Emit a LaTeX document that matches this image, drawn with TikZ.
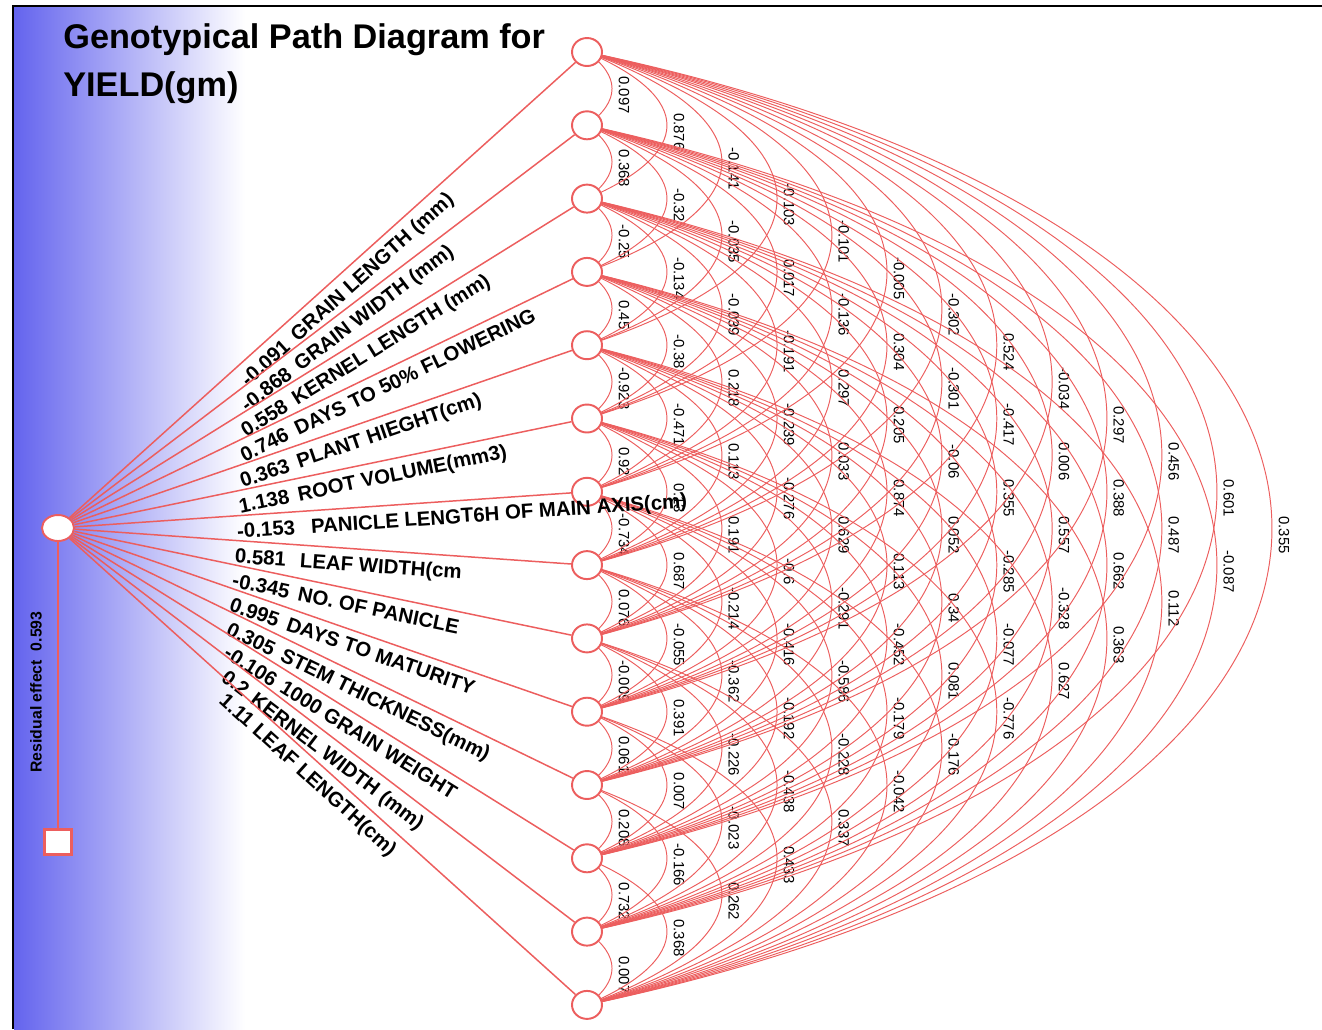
\documentclass[tikz,border=0pt]{standalone}
\usepackage{fontspec}
\setmainfont{Liberation Sans}
\usetikzlibrary{shapes.geometric,backgrounds}
\definecolor{rouge}{RGB}{236,94,94}
\definecolor{fond}{RGB}{100,100,238}

\begin{document}
\begin{tikzpicture}[x=0.02cm, y=-0.02cm]
\tikzset{noeud/.style={draw=rouge, fill=white, ellipse, line width=1.1pt, inner sep=0pt, minimum width=0.6cm, minimum height=0.56cm},
  centre/.style={noeud, minimum width=0.64cm, minimum height=0.52cm},
  carre/.style={draw=rouge, fill=white, rectangle, line width=1.4pt, inner sep=0pt, minimum width=0.54cm, minimum height=0.5cm},
  rayon/.style={draw=rouge, line width=0.85pt},
  courbe/.style={draw=rouge, line width=0.55pt},
  ecart/.style 2 args={out=-#1, in=#1, distance=#2},
  ec1/.style={ecart={35.6}{0.821cm}},
  ec2/.style={ecart={23.1}{2.319cm}},
  ec3/.style={ecart={19.9}{3.827cm}},
  ec4/.style={ecart={18.1}{5.333cm}},
  ec5/.style={ecart={16.9}{6.826cm}},
  ec6/.style={ecart={15.9}{8.320cm}},
  ec7/.style={ecart={15.1}{9.804cm}},
  ec8/.style={ecart={14.5}{11.290cm}},
  ec9/.style={ecart={13.8}{12.775cm}},
  ec10/.style={ecart={13.3}{14.250cm}},
  ec11/.style={ecart={12.8}{15.724cm}},
  ec12/.style={ecart={12.3}{17.197cm}},
  ec13/.style={ecart={11.9}{18.671cm}},
  coef/.style={yshift=-0.13cm, rotate=-90, anchor=south, inner sep=3.5pt, font=\fontsize{8.5}{10}\selectfont},
  etiq/.style={pos=0.32, sloped, anchor=north west, inner xsep=1pt, inner ysep=4pt, font=\bfseries\fontsize{11.6}{14}\selectfont}}
\useasboundingbox (0,0) rectangle (1322,1029);
\node[anchor=north west, align=left, inner sep=0pt, font=\bfseries\fontsize{19.5}{27.3}\selectfont] (titre) at (63,23) {Genotypical Path Diagram for\\YIELD(gm)};

\node[centre] (C) at (58,528) {};
\node[noeud] (V1) at (587,52) {};
\node[noeud] (V2) at (587,125.3) {};
\node[noeud] (V3) at (587,198.6) {};
\node[noeud] (V4) at (587,271.9) {};
\node[noeud] (V5) at (587,345.2) {};
\node[noeud] (V6) at (587,418.5) {};
\node[noeud] (V7) at (587,491.8) {};
\node[noeud] (V8) at (587,565.1) {};
\node[noeud] (V9) at (587,638.4) {};
\node[noeud] (V10) at (587,711.7) {};
\node[noeud] (V11) at (587,785) {};
\node[noeud] (V12) at (587,858.3) {};
\node[noeud] (V13) at (587,931.6) {};
\node[noeud] (V14) at (587,1004.9) {};
\node[carre] (R) at (58,842) {};
\node[rotate=90, inner sep=0pt, font=\bfseries\fontsize{9}{11}\selectfont] (res) at (36,692) {Residual effect\ \ 0.593};

% chemins directs
\draw[rayon] (C) -- node[etiq] {-0.091\hspace{0.45em}GRAIN LENGTH (mm)} (V1);
\draw[rayon] (C) -- node[etiq] {-0.868\hspace{0.45em}GRAIN WIDTH (mm)} (V2);
\draw[rayon] (C) -- node[etiq] {0.558\hspace{0.45em}KERNEL LENGTH (mm)} (V3);
\draw[rayon] (C) -- node[etiq] {0.746\hspace{0.45em}DAYS TO 50\% FLOWERING} (V4);
\draw[rayon] (C) -- node[etiq] {0.363\hspace{0.45em}PLANT HIEGHT(cm)} (V5);
\draw[rayon] (C) -- node[etiq] {1.138\hspace{0.45em}ROOT VOLUME(mm3)} (V6);
\draw[rayon] (C) -- node[etiq] {-0.153\hspace{0.8em}PANICLE LENGT6H OF MAIN AXIS(cm)} (V7);
\draw[rayon] (C) -- node[etiq] {0.581\hspace{0.7em}LEAF WIDTH(cm} (V8);
\draw[rayon] (C) -- node[etiq] {-0.345\hspace{0.45em}NO. OF PANICLE} (V9);
\draw[rayon] (C) -- node[etiq] {0.995\hspace{0.45em}DAYS TO MATURITY} (V10);
\draw[rayon] (C) -- node[etiq] {0.305\hspace{0.45em}STEM THICKNESS(mm)} (V11);
\draw[rayon] (C) -- node[etiq] {-0.106\hspace{0.4em}1000 GRAIN WEIGHT} (V12);
\draw[rayon] (C) -- node[etiq] {0.2\hspace{0.4em}KERNEL WIDTH (mm)} (V13);
\draw[rayon] (C) -- node[etiq] {1.11\hspace{0.3em}LEAF LENGTH(cm)} (V14);
\draw[rayon] (C) -- (R);

\begin{scope}[on background layer]
\shade[left color=fond, right color=white] (14,6) rectangle (245,1029);
\draw[line width=1.4pt] (13,1029) -- (13,6) -- (1322,6);
% correlations, ecart 1
\draw[courbe] (V1.center) to[ec1] node[coef] {0.097} (V2.center);
\draw[courbe] (V2.center) to[ec1] node[coef] {0.368} (V3.center);
\draw[courbe] (V3.center) to[ec1] node[coef] {-0.25} (V4.center);
\draw[courbe] (V4.center) to[ec1] node[coef] {0.45} (V5.center);
\draw[courbe] (V5.center) to[ec1] node[coef] {-0.923} (V6.center);
\draw[courbe] (V6.center) to[ec1] node[coef] {0.92} (V7.center);
\draw[courbe] (V7.center) to[ec1] node[coef] {-0.734} (V8.center);
\draw[courbe] (V8.center) to[ec1] node[coef] {0.076} (V9.center);
\draw[courbe] (V9.center) to[ec1] node[coef] {-0.009} (V10.center);
\draw[courbe] (V10.center) to[ec1] node[coef] {0.061} (V11.center);
\draw[courbe] (V11.center) to[ec1] node[coef] {0.208} (V12.center);
\draw[courbe] (V12.center) to[ec1] node[coef] {0.732} (V13.center);
\draw[courbe] (V13.center) to[ec1] node[coef] {0.007} (V14.center);
% ecart 2
\draw[courbe] (V1.center) to[ec2] node[coef] {0.876} (V3.center);
\draw[courbe] (V2.center) to[ec2] node[coef] {-0.32} (V4.center);
\draw[courbe] (V3.center) to[ec2] node[coef] {-0.134} (V5.center);
\draw[courbe] (V4.center) to[ec2] node[coef] {-0.38} (V6.center);
\draw[courbe] (V5.center) to[ec2] node[coef] {-0.471} (V7.center);
\draw[courbe] (V6.center) to[ec2] node[coef] {0.13} (V8.center);
\draw[courbe] (V7.center) to[ec2] node[coef] {0.687} (V9.center);
\draw[courbe] (V8.center) to[ec2] node[coef] {-0.055} (V10.center);
\draw[courbe] (V9.center) to[ec2] node[coef] {0.391} (V11.center);
\draw[courbe] (V10.center) to[ec2] node[coef] {0.007} (V12.center);
\draw[courbe] (V11.center) to[ec2] node[coef] {-0.166} (V13.center);
\draw[courbe] (V12.center) to[ec2] node[coef] {0.368} (V14.center);
% ecart 3
\draw[courbe] (V1.center) to[ec3] node[coef] {-0.141} (V4.center);
\draw[courbe] (V2.center) to[ec3] node[coef] {-0.035} (V5.center);
\draw[courbe] (V3.center) to[ec3] node[coef] {-0.039} (V6.center);
\draw[courbe] (V4.center) to[ec3] node[coef] {0.218} (V7.center);
\draw[courbe] (V5.center) to[ec3] node[coef] {0.113} (V8.center);
\draw[courbe] (V6.center) to[ec3] node[coef] {0.191} (V9.center);
\draw[courbe] (V7.center) to[ec3] node[coef] {-0.214} (V10.center);
\draw[courbe] (V8.center) to[ec3] node[coef] {-0.362} (V11.center);
\draw[courbe] (V9.center) to[ec3] node[coef] {-0.226} (V12.center);
\draw[courbe] (V10.center) to[ec3] node[coef] {-0.023} (V13.center);
\draw[courbe] (V11.center) to[ec3] node[coef] {0.262} (V14.center);
% ecart 4
\draw[courbe] (V1.center) to[ec4] node[coef] {-0.103} (V5.center);
\draw[courbe] (V2.center) to[ec4] node[coef] {0.017} (V6.center);
\draw[courbe] (V3.center) to[ec4] node[coef] {-0.191} (V7.center);
\draw[courbe] (V4.center) to[ec4] node[coef] {-0.239} (V8.center);
\draw[courbe] (V5.center) to[ec4] node[coef] {-0.276} (V9.center);
\draw[courbe] (V6.center) to[ec4] node[coef] {-0.6} (V10.center);
\draw[courbe] (V7.center) to[ec4] node[coef] {-0.416} (V11.center);
\draw[courbe] (V8.center) to[ec4] node[coef] {-0.192} (V12.center);
\draw[courbe] (V9.center) to[ec4] node[coef] {-0.438} (V13.center);
\draw[courbe] (V10.center) to[ec4] node[coef] {0.433} (V14.center);
% ecart 5
\draw[courbe] (V1.center) to[ec5] node[coef] {-0.101} (V6.center);
\draw[courbe] (V2.center) to[ec5] node[coef] {-0.136} (V7.center);
\draw[courbe] (V3.center) to[ec5] node[coef] {0.297} (V8.center);
\draw[courbe] (V4.center) to[ec5] node[coef] {0.033} (V9.center);
\draw[courbe] (V5.center) to[ec5] node[coef] {0.629} (V10.center);
\draw[courbe] (V6.center) to[ec5] node[coef] {-0.291} (V11.center);
\draw[courbe] (V7.center) to[ec5] node[coef] {-0.586} (V12.center);
\draw[courbe] (V8.center) to[ec5] node[coef] {-0.228} (V13.center);
\draw[courbe] (V9.center) to[ec5] node[coef] {0.337} (V14.center);
% ecart 6
\draw[courbe] (V1.center) to[ec6] node[coef] {-0.005} (V7.center);
\draw[courbe] (V2.center) to[ec6] node[coef] {0.304} (V8.center);
\draw[courbe] (V3.center) to[ec6] node[coef] {0.205} (V9.center);
\draw[courbe] (V4.center) to[ec6] node[coef] {0.874} (V10.center);
\draw[courbe] (V5.center) to[ec6] node[coef] {0.113} (V11.center);
\draw[courbe] (V6.center) to[ec6] node[coef] {-0.452} (V12.center);
\draw[courbe] (V7.center) to[ec6] node[coef] {-0.179} (V13.center);
\draw[courbe] (V8.center) to[ec6] node[coef] {-0.042} (V14.center);
% ecart 7
\draw[courbe] (V1.center) to[ec7] node[coef] {-0.302} (V8.center);
\draw[courbe] (V2.center) to[ec7] node[coef] {-0.301} (V9.center);
\draw[courbe] (V3.center) to[ec7] node[coef] {-0.06} (V10.center);
\draw[courbe] (V4.center) to[ec7] node[coef] {0.052} (V11.center);
\draw[courbe] (V5.center) to[ec7] node[coef] {0.34} (V12.center);
\draw[courbe] (V6.center) to[ec7] node[coef] {0.081} (V13.center);
\draw[courbe] (V7.center) to[ec7] node[coef] {-0.176} (V14.center);
% ecart 8
\draw[courbe] (V1.center) to[ec8] node[coef] {0.524} (V9.center);
\draw[courbe] (V2.center) to[ec8] node[coef] {-0.417} (V10.center);
\draw[courbe] (V3.center) to[ec8] node[coef] {0.355} (V11.center);
\draw[courbe] (V4.center) to[ec8] node[coef] {-0.285} (V12.center);
\draw[courbe] (V5.center) to[ec8] node[coef] {-0.077} (V13.center);
\draw[courbe] (V6.center) to[ec8] node[coef] {-0.776} (V14.center);
% ecart 9
\draw[courbe] (V1.center) to[ec9] node[coef] {-0.034} (V10.center);
\draw[courbe] (V2.center) to[ec9] node[coef] {0.006} (V11.center);
\draw[courbe] (V3.center) to[ec9] node[coef] {0.557} (V12.center);
\draw[courbe] (V4.center) to[ec9] node[coef] {-0.328} (V13.center);
\draw[courbe] (V5.center) to[ec9] node[coef] {0.627} (V14.center);
% ecart 10
\draw[courbe] (V1.center) to[ec10] node[coef] {0.297} (V11.center);
\draw[courbe] (V2.center) to[ec10] node[coef] {0.388} (V12.center);
\draw[courbe] (V3.center) to[ec10] node[coef] {0.662} (V13.center);
\draw[courbe] (V4.center) to[ec10] node[coef] {0.363} (V14.center);
% ecart 11
\draw[courbe] (V1.center) to[ec11] node[coef] {0.456} (V12.center);
\draw[courbe] (V2.center) to[ec11] node[coef] {0.487} (V13.center);
\draw[courbe] (V3.center) to[ec11] node[coef] {0.112} (V14.center);
% ecart 12
\draw[courbe] (V1.center) to[ec12] node[coef] {0.601} (V13.center);
\draw[courbe] (V2.center) to[ec12] node[coef] {-0.087} (V14.center);
% ecart 13
\draw[courbe] (V1.center) to[ec13] node[coef] {0.355} (V14.center);
\end{scope}
\end{tikzpicture}
\end{document}
